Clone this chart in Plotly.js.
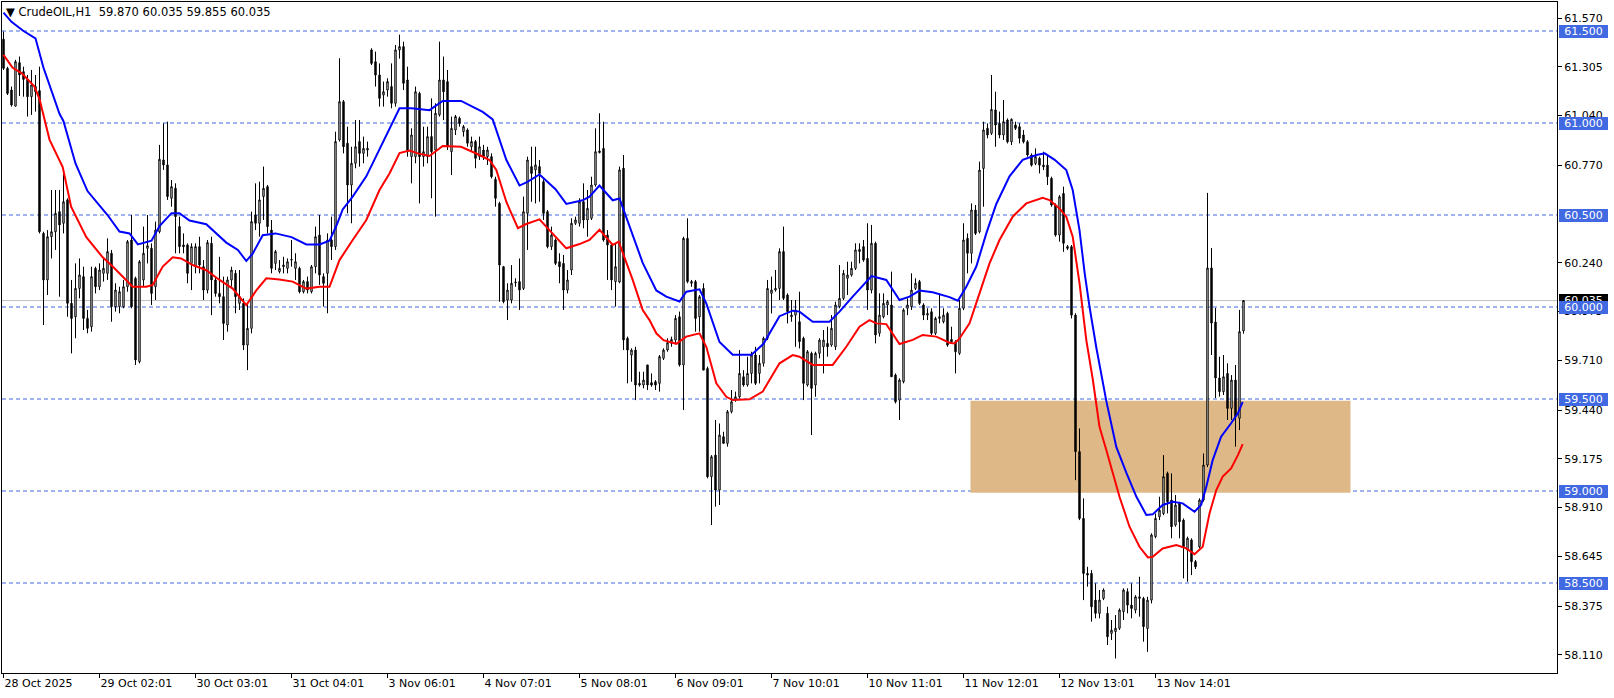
<!DOCTYPE html>
<html><head><meta charset="utf-8">
<script src="https://cdn.plot.ly/plotly-3.0.1.min.js"></script>
<style>html,body{margin:0;padding:0;background:#fff;overflow:hidden}#chart{width:1614px;height:698px}</style>
</head><body><div id="chart"></div>
<script>
const symbol = 'CrudeOIL,H1';
const tickBars = [0,24,48,72,96,120,144,168,192,216,240,264,288];
const tickLabels = ['28 Oct 2025','29 Oct 02:01','30 Oct 03:01','31 Oct 04:01','3 Nov 06:01','4 Nov 07:01','5 Nov 08:01','6 Nov 09:01','7 Nov 10:01','10 Nov 11:01','11 Nov 12:01','12 Nov 13:01','13 Nov 14:01'];
const priceTicks = [61.570,61.305,61.040,60.770,60.240,59.975,59.710,59.440,59.175,58.910,58.645,58.375,58.110];
const levels = [61.5,61.0,60.5,60.0,59.5,59.0,58.5];
const zoneLow = 58.99, zoneHigh = 59.49, zoneStartBar = 241.75, zoneEndBar = 336.75;

const opens = [
61.455,61.297,61.179,61.092,61.328,61.279,61.237,61.143,61.198,61.176,
60.400,60.147,60.382,60.409,60.518,60.455,60.582,60.020,59.947,60.101,
60.165,59.938,59.893,60.210,60.110,60.183,60.183,60.292,60.002,60.002,
60.002,60.110,60.364,60.156,59.703,60.147,60.319,60.319,60.110,60.409,
60.799,60.772,60.591,60.645,60.437,60.337,60.337,60.237,60.219,60.328,
60.219,60.092,60.346,60.147,60.074,60.056,59.902,60.147,60.183,60.020,
60.020,59.793,59.884,60.500,60.455,60.600,60.654,60.418,60.237,60.192,
60.219,60.210,60.255,60.210,60.210,60.083,60.138,60.083,60.219,60.391,
60.165,60.183,60.364,60.328,60.908,61.116,60.890,60.663,60.781,60.899,
60.835,60.853,61.397,61.333,61.261,61.152,61.179,61.198,61.107,61.397,
61.415,61.234,60.817,60.817,61.161,60.817,60.817,60.926,60.853,61.044,
61.234,61.225,60.844,60.962,61.026,60.953,60.962,60.871,60.899,60.817,
60.853,60.817,60.817,60.694,60.563,60.219,60.038,60.038,60.132,60.138,
60.101,60.509,60.763,60.745,60.763,60.681,60.518,60.328,60.364,60.246,
60.237,60.092,60.201,60.455,60.455,60.572,60.473,60.482,60.663,60.839,
60.862,60.391,60.337,60.138,60.136,60.754,59.830,59.739,59.766,59.585,
59.576,59.685,59.589,59.594,59.585,59.721,59.766,59.802,59.820,59.947,
59.685,60.373,60.129,60.138,59.947,60.101,59.666,59.078,59.195,59.005,
59.295,59.259,59.431,59.494,59.512,59.621,59.576,59.639,59.739,59.639,
59.694,59.830,60.074,60.092,60.101,60.301,60.065,59.947,59.956,59.920,
59.830,59.576,59.748,59.576,59.748,59.784,59.802,59.793,59.784,60.002,
60.047,60.156,60.174,60.210,60.301,60.328,60.264,60.092,60.346,59.857,
59.947,60.011,60.011,59.630,59.494,59.594,59.993,60.002,60.101,60.138,
60.011,59.956,59.974,59.857,59.938,59.920,59.965,59.824,59.811,59.748,
59.993,60.373,60.292,60.527,60.409,60.753,60.971,60.944,61.071,60.998,
60.935,61.016,60.898,60.989,60.980,60.935,60.898,60.826,60.780,60.808,
60.771,60.771,60.699,60.554,60.391,60.617,60.328,60.328,59.956,59.214,
58.851,58.552,58.552,58.407,58.335,58.416,58.335,58.226,58.236,58.254,
58.344,58.453,58.380,58.353,58.416,58.416,58.253,58.407,58.752,58.860,
58.878,59.096,58.951,58.815,58.933,58.842,58.679,58.734,58.616,58.697,
58.951,59.141,60.212,59.918,59.614,59.540,59.639,59.449,59.603,59.395,
59.870];

const highs = [
61.497,61.306,61.198,61.343,61.361,61.306,61.261,61.288,61.261,61.306,
60.409,60.418,60.636,60.636,60.636,60.745,60.591,60.147,60.237,60.264,
60.219,59.984,60.219,60.219,60.237,60.264,60.373,60.310,60.129,60.110,
60.147,60.364,60.500,60.165,60.255,60.437,60.500,60.346,60.464,60.881,
60.998,61.007,60.690,60.672,60.491,60.400,60.346,60.346,60.346,60.382,
60.255,60.364,60.382,60.165,60.273,60.165,60.165,60.219,60.201,60.201,
60.047,60.020,60.518,60.672,60.681,60.763,60.663,60.473,60.310,60.255,
60.273,60.264,60.364,60.292,60.219,60.147,60.165,60.228,60.437,60.500,
60.183,60.400,60.491,60.953,61.352,61.125,60.980,60.871,61.016,61.016,
60.926,60.899,61.406,61.388,61.324,61.225,61.243,61.324,61.424,61.480,
61.442,61.306,60.971,61.198,61.170,60.980,60.980,61.134,61.107,61.442,
61.361,61.288,61.035,61.044,61.035,60.989,60.971,60.926,60.908,60.926,
60.881,60.871,60.835,60.708,60.572,60.223,60.129,60.228,60.156,60.264,
60.600,60.817,60.871,60.871,60.799,60.694,60.527,60.437,60.373,60.292,
60.283,60.201,60.482,60.491,60.591,60.672,60.636,60.708,60.971,61.053,
61.007,60.418,60.346,60.346,60.763,60.826,59.839,59.775,59.784,59.648,
59.648,59.685,59.639,59.603,59.739,59.775,59.830,59.839,59.956,59.975,
60.382,60.482,60.147,60.147,60.065,60.129,59.676,59.195,59.386,59.367,
59.322,59.440,59.549,59.540,59.766,59.657,59.730,59.757,59.784,59.739,
59.839,60.147,60.165,60.201,60.319,60.437,60.074,60.038,60.038,60.083,
59.839,59.766,59.757,59.757,59.830,59.875,59.893,59.956,60.029,60.228,
60.201,60.246,60.246,60.346,60.346,60.364,60.455,60.446,60.355,60.074,
60.074,60.038,60.192,59.639,59.612,59.993,60.047,60.183,60.156,60.147,
60.020,59.993,59.993,59.947,60.074,59.993,59.974,59.893,59.820,60.038,
60.455,60.400,60.563,60.554,60.790,61.007,60.998,61.261,61.170,61.062,
61.125,61.025,61.025,61.007,60.998,60.962,60.907,60.835,60.862,60.817,
60.844,60.826,60.708,60.563,60.608,60.654,60.337,60.337,59.966,59.340,
58.960,58.588,58.570,58.498,58.462,58.471,58.371,58.299,58.326,58.362,
58.471,58.471,58.498,58.434,58.534,58.425,58.425,58.770,58.878,58.969,
59.195,59.105,59.096,58.978,58.942,58.851,58.752,58.743,58.625,58.960,
59.204,60.620,60.321,59.995,59.730,59.739,59.694,59.630,59.685,59.984,
60.035];

const lows = [
61.288,61.152,61.089,61.089,61.147,61.143,61.035,61.044,61.062,60.400,
59.902,60.065,60.264,60.310,60.056,60.400,59.947,59.748,59.830,60.047,
59.875,59.857,59.866,60.074,60.092,60.138,60.147,59.920,59.975,59.966,
59.993,60.083,59.993,59.685,59.694,60.110,60.237,60.011,60.038,60.400,
60.745,60.582,60.545,60.292,60.292,60.292,60.129,60.092,60.183,60.183,
60.038,60.074,59.956,60.056,60.020,59.821,59.866,60.110,59.966,59.984,
59.766,59.657,59.857,60.418,60.382,60.473,60.400,60.183,60.201,60.183,
60.183,60.183,60.219,60.147,60.074,60.074,60.074,60.074,60.183,60.120,
60.002,59.966,60.255,60.310,60.899,60.835,60.509,60.455,60.754,60.763,
60.781,60.817,61.315,61.198,61.089,61.089,61.143,61.080,61.089,61.350,
61.179,60.817,60.672,60.781,60.563,60.763,60.781,60.591,60.491,61.035,
61.016,60.853,60.717,60.935,60.980,60.926,60.871,60.844,60.754,60.799,
60.799,60.772,60.699,60.545,60.029,60.020,59.929,60.020,60.110,59.984,
60.092,60.310,60.572,60.563,60.572,60.473,60.319,60.310,60.228,60.129,
59.984,60.074,60.174,60.446,60.437,60.428,60.382,60.473,60.654,60.835,
60.355,60.147,60.092,60.002,60.129,59.766,59.585,59.594,59.494,59.567,
59.558,59.549,59.567,59.549,59.540,59.712,59.757,59.784,59.802,59.676,
59.440,60.129,60.110,59.866,59.866,59.657,59.069,58.815,58.915,58.924,
59.259,59.241,59.422,59.485,59.503,59.567,59.567,59.585,59.576,59.585,
59.676,59.820,59.965,60.083,60.038,60.038,59.911,59.920,59.784,59.775,
59.494,59.567,59.304,59.512,59.721,59.639,59.730,59.784,59.766,59.993,
60.038,60.065,60.165,60.201,60.237,60.246,59.984,60.074,59.802,59.839,
59.938,59.956,59.621,59.476,59.386,59.585,59.956,59.984,60.092,60.011,
59.929,59.929,59.848,59.848,59.911,59.911,59.784,59.802,59.639,59.739,
59.983,60.183,60.237,60.391,60.400,60.545,60.917,60.935,60.871,60.917,
60.908,60.889,60.880,60.962,60.889,60.889,60.817,60.763,60.771,60.726,
60.744,60.663,60.545,60.382,60.355,60.300,60.310,59.938,59.059,58.842,
58.407,58.480,58.290,58.308,58.308,58.407,58.163,58.190,58.090,58.245,
58.299,58.335,58.308,58.335,58.317,58.181,58.126,58.389,58.743,58.842,
58.869,58.878,58.743,58.806,58.743,58.525,58.507,58.543,58.576,58.688,
58.942,59.130,59.739,59.505,59.513,59.522,59.386,59.386,59.241,59.331,
59.855];

const closes = [
61.297,61.161,61.098,61.333,61.261,61.237,61.143,61.207,61.170,60.409,
60.147,60.382,60.409,60.509,60.446,60.572,60.020,59.938,60.101,60.174,
59.938,59.884,60.165,60.110,60.201,60.210,60.301,60.002,60.092,60.083,
60.110,60.355,60.002,59.712,60.246,60.292,60.333,60.074,60.418,60.803,
60.772,60.600,60.654,60.491,60.328,60.328,60.183,60.328,60.328,60.228,
60.092,60.350,60.147,60.074,60.056,59.911,60.147,60.201,60.056,60.056,
59.793,59.884,60.464,60.455,60.582,60.645,60.437,60.210,60.301,60.210,
60.228,60.246,60.258,60.246,60.083,60.138,60.092,60.219,60.382,60.174,
60.129,60.364,60.328,60.899,61.116,60.871,60.663,60.781,60.871,60.835,
60.862,60.862,61.324,61.261,61.134,61.170,61.225,61.107,61.397,61.415,
61.216,60.844,60.935,61.170,60.817,60.844,60.926,60.844,61.053,61.234,
61.170,60.871,60.971,61.035,60.998,60.980,60.890,60.899,60.808,60.871,
60.817,60.853,60.708,60.591,60.228,60.029,60.092,60.129,60.135,60.092,
60.518,60.799,60.726,60.772,60.726,60.509,60.328,60.391,60.237,60.219,
60.092,60.147,60.455,60.473,60.572,60.473,60.536,60.663,60.844,60.848,
60.364,60.337,60.147,60.219,60.745,59.821,59.766,59.766,59.576,59.576,
59.603,59.576,59.576,59.576,59.730,59.766,59.806,59.824,59.938,59.685,
60.373,60.138,60.138,59.938,60.056,59.657,59.078,59.186,59.005,59.304,
59.259,59.431,59.485,59.512,59.639,59.576,59.639,59.739,59.585,59.694,
59.830,60.101,60.092,60.101,60.301,60.047,59.975,59.956,59.984,59.812,
59.585,59.757,59.558,59.748,59.820,59.820,59.784,59.884,60.011,60.047,
60.183,60.174,60.210,60.310,60.313,60.255,60.092,60.346,59.848,59.956,
60.020,60.029,59.621,59.485,59.603,59.984,60.011,60.092,60.129,60.020,
59.956,59.965,59.857,59.938,59.947,59.956,59.793,59.811,59.757,59.993,
60.364,60.292,60.527,60.400,60.744,60.962,60.935,61.074,60.989,60.935,
61.007,60.898,61.020,60.971,60.917,60.898,60.826,60.771,60.817,60.771,
60.762,60.708,60.554,60.391,60.599,60.346,60.319,59.956,59.214,58.851,
58.552,58.543,58.371,58.335,58.407,58.462,58.208,58.244,58.254,58.353,
58.462,58.380,58.362,58.425,58.425,58.263,58.407,58.761,58.851,58.896,
59.078,58.942,58.806,58.924,58.833,58.697,58.743,58.616,58.588,58.951,
59.141,60.212,59.913,59.614,59.540,59.621,59.449,59.603,59.404,59.866,
60.035];

const blueBars = [0,2,5,8,10,14,15,18,21,26,29,31.5,33.6,37,39,42,44,46.5,50.7,55.7,58.6,60.7,62.3,64.8,68,72,75.7,79,81.5,83.2,84.8,87.3,90.7,94.8,99,102,106.5,109.8,114.4,119.8,122.3,125.7,129,131,134,138,140.7,144.8,146.5,149,152.3,154,155,157.3,159.8,163.2,165.7,169,170.7,174,175.7,179,182.3,187,190,194,197.3,199,202.3,206.5,209,212.3,215.7,217,220.7,224,226.5,229,232.3,236.5,238.6,240.7,243.2,245.7,248.2,251.5,254.8,258.2,260.3,262.8,265.7,267.3,269,270.3,271.5,273.2,275.7,278.2,280.7,283.2,285.7,287.3,289.8,292.3,294.8,297.75,299.4,300.7,302.3,304.4,306.9,308.6,309.8];
const blueVals = [61.60,61.55,61.50,61.46,61.30,61.05,61.01,60.78,60.63,60.50,60.41,60.40,60.34,60.36,60.44,60.51,60.51,60.47,60.45,60.35,60.31,60.25,60.29,60.39,60.40,60.38,60.34,60.34,60.36,60.44,60.53,60.60,60.71,60.89,61.08,61.08,61.07,61.12,61.12,61.06,61.02,60.80,60.66,60.68,60.72,60.64,60.56,60.58,60.60,60.66,60.58,60.59,60.53,60.39,60.24,60.09,60.056,60.03,60.083,60.096,60.02,59.81,59.74,59.74,59.80,59.95,59.98,59.975,59.92,59.92,59.975,60.056,60.138,60.168,60.147,60.038,60.056,60.089,60.08,60.054,60.034,60.11,60.22,60.40,60.56,60.71,60.80,60.826,60.835,60.80,60.744,60.636,60.418,60.183,60.002,59.78,59.49,59.24,59.10,58.97,58.87,58.873,58.924,58.942,58.933,58.887,58.924,59.023,59.168,59.295,59.368,59.422,59.485];

const redBars = [0,2.3,4.6,7.7,9,11.5,14.8,16.9,20.7,24.8,27.3,29.8,32.3,35.7,37.3,39.8,42.3,44.4,47.3,50.7,54,57.3,60.7,63.2,65.7,69,72.3,75.7,79,81.5,84,87.3,90.7,94,96.5,99,101.5,103.6,106.5,109.8,114.4,119,121.5,123.2,125.7,128.6,130.7,134,137.3,140.7,144,146.5,149,152.3,153.8,156.5,157.3,159.8,161.5,163.2,165,168.2,170.7,174,175.7,177.3,178.2,180.7,182.3,186.5,189.8,194,197.3,199,202.3,207.3,210.7,214,216.5,218.2,220.7,224,227.3,229.8,233.2,236.5,237.75,239,241.5,244,246.5,249,252.3,255.7,259.8,261.5,264,265.7,267.3,269,270.7,272.3,274,275.7,277.3,279,281.5,284,286.1,287.3,289.8,293.2,295.7,297.75,299.8,301.5,303.2,304.8,306.9,308.6,309.8];
const redVals = [61.37,61.30,61.27,61.20,61.13,60.91,60.76,60.545,60.38,60.27,60.22,60.165,60.11,60.11,60.12,60.22,60.27,60.264,60.228,60.20,60.147,60.10,60.01,60.09,60.156,60.15,60.138,60.10,60.11,60.11,60.255,60.364,60.473,60.636,60.726,60.837,60.85,60.835,60.821,60.875,60.871,60.826,60.799,60.745,60.572,60.428,60.451,60.476,60.40,60.319,60.342,60.364,60.42,60.337,60.355,60.20,60.147,59.984,59.929,59.857,59.82,59.80,59.839,59.857,59.784,59.657,59.585,59.512,59.494,59.498,59.54,59.694,59.739,59.73,59.685,59.685,59.784,59.893,59.929,59.911,59.907,59.799,59.821,59.848,59.839,59.806,59.802,59.829,59.911,60.074,60.237,60.364,60.491,60.563,60.594,60.581,60.536,60.491,60.382,60.13,59.82,59.61,59.349,59.223,59.096,58.969,58.806,58.697,58.639,58.643,58.688,58.706,58.688,58.657,58.697,58.878,59.005,59.078,59.123,59.195,59.255];

const n = closes.length - 1;
const bars = closes.map((_, i) => i);
const FONT = 'DejaVu Sans, Verdana, sans-serif';
const LEVEL_BLUE = '#4169E1';

const traces = [
  {type:'scatter', mode:'lines', x: blueBars, y: blueVals, line:{color:'#0000FF', width:2}, hoverinfo:'skip'},
  {type:'scatter', mode:'lines', x: redBars, y: redVals, line:{color:'#FF0000', width:2}, hoverinfo:'skip'},
  {type:'candlestick', x: bars, open: opens, high: highs, low: lows, close: closes,
   increasing:{line:{color:'#000000', width:1}, fillcolor:'#FFFFFF'},
   decreasing:{line:{color:'#000000', width:1}, fillcolor:'#000000'},
   whiskerwidth:0, hoverinfo:'skip'}
];

const shapes = [
  {type:'rect', xref:'x', yref:'y', x0: zoneStartBar, x1: zoneEndBar, y0: zoneLow, y1: zoneHigh,
   fillcolor:'#DEB887', line:{width:0}, layer:'below'},
  {type:'line', xref:'paper', yref:'y', x0:0, x1:1, y0: closes[n], y1: closes[n],
   line:{color:'#C0C0C0', width:1}, layer:'below'}
];
levels.forEach(v => shapes.push({type:'line', xref:'paper', yref:'y', x0:0, x1:1, y0:v, y1:v,
  line:{color: LEVEL_BLUE, width:1, dash:'4px,3px'}, layer:'below'}));

const annotations = [
  {xref:'paper', yref:'paper', x:0, y:1, xanchor:'left', yanchor:'top', xshift:2, yshift:-1, showarrow:false,
   text: '▼ ' + symbol + '  ' + [opens[n], highs[n], lows[n], closes[n]].map(v => v.toFixed(3)).join(' '),
   font:{family: FONT, size:11.5, color:'#000'}},
  {xref:'paper', yref:'y', x:1, y: closes[n], xanchor:'left', yanchor:'middle', xshift:2, showarrow:false,
   text: closes[n].toFixed(3), bgcolor:'#000000', font:{family: FONT, size:11, color:'#FFFFFF'},
   width:49, height:13, borderpad:0, borderwidth:0}
];
levels.forEach(v => annotations.push({xref:'paper', yref:'y', x:1, y:v, xanchor:'left', yanchor:'middle', xshift:2,
  showarrow:false, text: v.toFixed(3), bgcolor: LEVEL_BLUE, font:{family: FONT, size:11, color:'#FFFFFF'},
  width:49, height:13, borderpad:0, borderwidth:0}));

const layout = {
  width:1614, height:698,
  margin:{l:2, r:57, t:2, b:25, pad:0},
  paper_bgcolor:'#FFFFFF', plot_bgcolor:'#FFFFFF',
  showlegend:false,
  boxgap:0.5,
  xaxis:{range:[-0.375, 388.375], tickmode:'array', tickvals: tickBars, ticktext: tickLabels,
    ticks:'outside', ticklen:4, tickcolor:'#000', tickwidth:1, ticklabelposition:'outside right',
    showgrid:false, zeroline:false, showline:true, linecolor:'#000', linewidth:1, mirror:true,
    rangeslider:{visible:false}, tickfont:{family: FONT, size:11, color:'#000'}, fixedrange:true},
  yaxis:{side:'right', range:[58.0109, 61.6576], tickmode:'array', tickvals: priceTicks,
    ticktext: priceTicks.map(v => v.toFixed(3)),
    ticks:'outside', ticklen:4, tickcolor:'#000', tickwidth:1,
    showgrid:false, zeroline:false, showline:true, linecolor:'#000', linewidth:1, mirror:true,
    tickfont:{family: FONT, size:11, color:'#000'}, fixedrange:true},
  shapes: shapes,
  annotations: annotations
};

Plotly.newPlot('chart', traces, layout, {staticPlot:true, displayModeBar:false});
</script>
</body></html>
